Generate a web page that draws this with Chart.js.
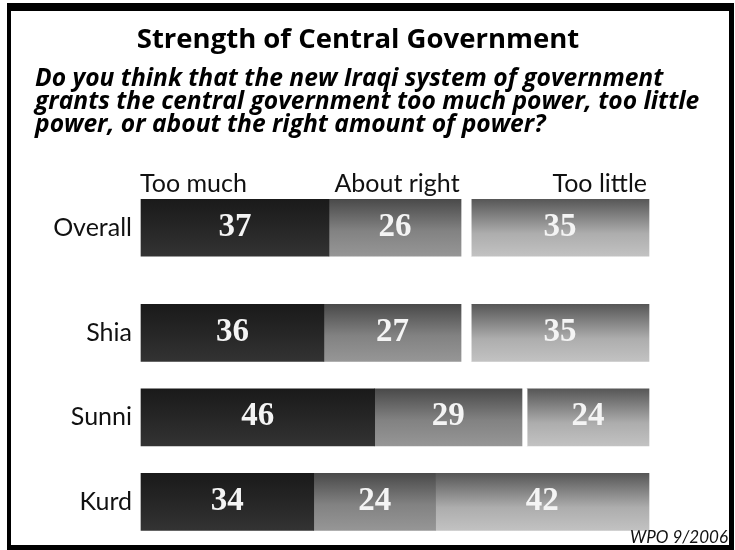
<!DOCTYPE html>
<html><head><meta charset="utf-8">
<script src="https://cdn.jsdelivr.net/npm/chart.js@4.4.0/dist/chart.umd.min.js"></script>
<style>html,body{margin:0;padding:0;background:#fff}#wrap{position:relative;width:735px;height:550px}</style>
</head><body><div id="wrap"><canvas id="c" width="735" height="550"></canvas></div>
<script>
const titleText = 'Strength of Central Government';
const subtitleLines = [
  'Do you think that the new Iraqi system of government',
  'grants the central government too much power, too little',
  'power, or about the right amount of power?'
];
const sourceNote = 'WPO 9/2006';
const groups = ['Overall', 'Shia', 'Sunni', 'Kurd'];
const seriesNames = ['Too much', 'About right', 'Too little'];
const tooMuch = [37, 36, 46, 34];
const aboutRight = [26, 27, 29, 24];
const noAnswer = [2, 2, 1, 0];
const tooLittle = [35, 35, 24, 42];
// layout: vertical slot of each group (Overall set apart from the others)
const rowOffset = [0, 1.245, 2.245, 3.245];

const BAR = 57;
const SANS = 'Lato, "Open Sans", sans-serif';
const WIDE = '"Open Sans", Lato, sans-serif';

function gradFill(stops) {
  return (ctx) => {
    const chart = ctx.chart;
    const ys = chart.scales && chart.scales.y;
    const fallback = stops[stops.length - 1][1];
    if (!ys || ctx.type !== 'data') return fallback;
    const yc = ys.getPixelForValue(rowOffset[ctx.dataIndex]);
    if (!isFinite(yc)) return fallback;
    const g = chart.ctx.createLinearGradient(0, yc - BAR / 2, 0, yc + BAR / 2);
    stops.forEach(([o, c]) => g.addColorStop(o, c));
    return g;
  };
}
const toPts = (arr) => arr.map((v, i) => ({ x: v, y: rowOffset[i] }));

const datasets = [
  { label: seriesNames[0], data: toPts(tooMuch), showValue: true,
    backgroundColor: gradFill([[0, '#1a1a1a'], [0.5, '#262626'], [1, '#333333']]) },
  { label: seriesNames[1], data: toPts(aboutRight), showValue: true,
    backgroundColor: gradFill([[0, '#4a4a4a'], [0.55, '#828282'], [1, '#969696']]) },
  { label: 'No answer', data: toPts(noAnswer), showValue: false, backgroundColor: '#ffffff' },
  { label: seriesNames[2], data: toPts(tooLittle), showValue: true,
    backgroundColor: gradFill([[0, '#575757'], [0.6, '#adadad'], [1, '#c2c2c2']]) }
];
datasets.forEach(d => { d.barThickness = BAR; d.borderWidth = 0; d.clip = false; });

const decor = {
  id: 'decor',
  beforeDraw(chart) {
    const c = chart.ctx;
    c.save();
    c.fillStyle = '#ffffff';
    c.fillRect(0, 0, chart.width, chart.height);
    c.fillStyle = '#000000';
    c.fillRect(7, 3, 727, 547);
    c.fillStyle = '#ffffff';
    c.fillRect(11, 11, 718, 534);
    c.restore();
  },
  afterDatasetsDraw(chart) {
    const c = chart.ctx;
    c.save();
    // values
    c.font = 'bold 33px "Liberation Serif", "DejaVu Serif", serif';
    c.fillStyle = '#f4f4f4';
    c.textAlign = 'center';
    c.textBaseline = 'alphabetic';
    chart.data.datasets.forEach((ds, di) => {
      if (!ds.showValue) return;
      const meta = chart.getDatasetMeta(di);
      meta.data.forEach((el, i) => {
        const v = ds.data[i].x;
        if (!v) return;
        c.fillText(String(v), (el.x + el.base) / 2, el.y + 8);
      });
    });
    // column headers from the Overall row
    c.font = '25px ' + SANS;
    c.fillStyle = '#111111';
    const m0 = chart.getDatasetMeta(0).data[0];
    const m1 = chart.getDatasetMeta(1).data[0];
    const m3 = chart.getDatasetMeta(3).data[0];
    const hy = 192;
    c.textAlign = 'left';
    c.fillText(seriesNames[0], m0.base - 1, hy);
    c.textAlign = 'center';
    c.fillText(seriesNames[1], (m1.base + m1.x) / 2 + 2, hy);
    c.textAlign = 'right';
    c.fillText(seriesNames[2], m3.x - 2, hy);
    // title
    c.fillStyle = '#000000';
    c.textAlign = 'center';
    c.font = 'bold 27.5px ' + WIDE;
    c.fillText(titleText, 358, 48, 446);
    // subtitle
    c.textAlign = 'left';
    c.font = 'italic bold 24.6px ' + WIDE;
    const sb = [86, 109, 132];
    subtitleLines.forEach((t, i) => c.fillText(t, 35, sb[i], 670));
    // source
    c.textAlign = 'right';
    c.font = 'italic 17px ' + SANS;
    c.fillStyle = '#111111';
    c.fillText(sourceNote, 728, 543);
    c.restore();
  }
};

new Chart(document.getElementById('c'), {
  type: 'bar',
  data: { datasets },
  options: {
    indexAxis: 'y',
    responsive: false,
    animation: false,
    events: [],
    layout: { padding: { top: 185, bottom: 9, left: 0, right: 86 } },
    plugins: { legend: { display: false }, tooltip: { enabled: false }, title: { display: false } },
    scales: {
      x: { type: 'linear', stacked: true, min: 0, max: 100, display: false },
      y: {
        type: 'linear', stacked: true, reverse: true, offset: false, min: -0.506, max: 3.53,
        afterBuildTicks: (s) => { s.ticks = rowOffset.map(v => ({ value: v })); },
        afterFit: (s) => { s.width = 141; },
        grid: { display: false, drawTicks: false, offset: false },
        border: { display: false },
        ticks: {
          padding: 9,
          color: '#111111',
          font: { family: SANS, size: 25 },
          callback: (v, i) => groups[i]
        }
      }
    }
  },
  plugins: [decor]
});
</script>
</body></html>
